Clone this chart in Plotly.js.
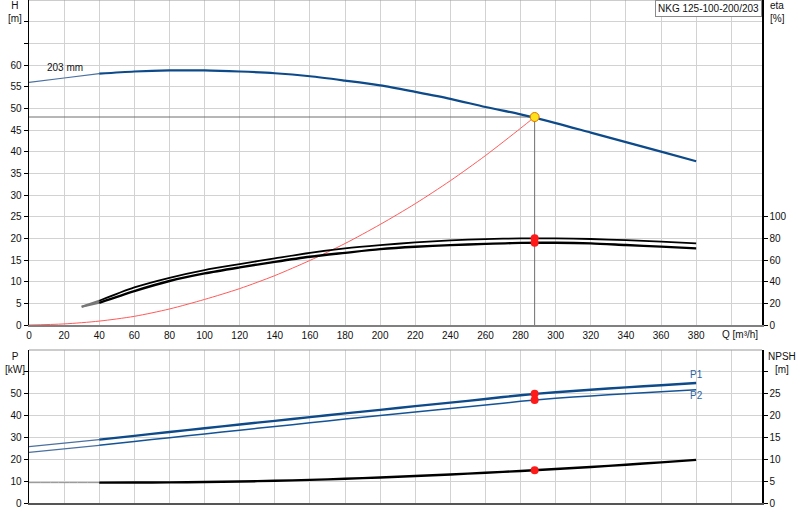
<!DOCTYPE html>
<html><head><meta charset="utf-8">
<script src="https://cdn.plot.ly/plotly-3.0.1.min.js"></script>
<style>html,body{margin:0;padding:0;background:#fff}#chart{width:800px;height:520px}</style>
</head><body><div id="chart"></div>
<script>
// ---- data ----
const qGrid    = [0,20,40,60,80,100,120,140,160,180,200,220,240,260,280,300,320,340,360,380];
const headH    = [56.0,57.0,58.0,58.5,58.75,58.75,58.5,58.1,57.4,56.4,55.3,53.8,52.2,50.3,48.6,46.6,44.4,42.2,40.0,37.8];
const qSystem  = [0,20,40,60,80,100,120,140,160,180,200,220,240,260,280,288];
const systemH  = [0,0.25,0.9,2.0,3.7,5.9,8.4,11.4,14.9,18.8,23.2,28.0,33.3,39.1,45.4,48.0];
const qEta     = [30,40,60,80,100,120,140,160,180,200,220,240,260,280,300,320,340,360,380];
const etaUpper = [16.9,22.4,34.7,43.6,50.7,56.2,61.5,66.6,70.7,73.7,76.2,78.1,79.3,79.9,80.0,79.4,78.3,76.9,75.3];
const etaLower = [16.9,20.5,31.3,40.6,47.6,53.2,58.3,63.0,66.6,70.0,72.2,73.7,74.9,75.8,75.9,75.3,73.8,72.3,70.7];
const powerP1  = [25.8,27.4,29.0,30.7,32.5,34.2,35.9,37.6,39.3,41.0,42.6,44.3,45.9,47.6,49.3,50.7,51.8,52.9,53.9,54.9];
const powerP2  = [23.2,24.8,26.4,28.1,29.9,31.6,33.3,35.0,36.7,38.4,40.0,41.6,43.2,44.8,46.5,47.9,49.0,50.0,50.9,51.8];
const npshR    = [4.65,4.65,4.65,4.68,4.72,4.8,4.92,5.08,5.28,5.55,5.85,6.18,6.53,6.92,7.33,7.78,8.25,8.75,9.3,9.86];
const opQ = 288, opH = 48;
const opEta = [80, 76];
const opP = [50, 47.1];
const opNpsh = 7.5;
const qOperStart = 40;
const xTickVals = [0,20,40,60,80,100,120,140,160,180,200,220,240,260,280,300,320,340,360,380,400];
const xTickText = ['0','20','40','60','80','100','120','140','160','180','200','220','240','260','280','300','320','340','360','380',''];
const hTickVals = [0,5,10,15,20,25,30,35,40,45,50,55,60,65,70];
const hTickText = ['0','5','10','15','20','25','30','35','40','45','50','55','60','',''];
const etaTickVals = [0,20,40,60,80,100];
const pTickVals = [0,10,20,30,40,50,60];
const pTickText = ['0','10','20','30','40','50',''];
const nTickVals = [0,5,10,15,20,25,30];
const nTickText = ['0','5','10','15','20','25',''];

function seg(q, v, lo, hi) {
  const x = [], y = [];
  q.forEach((qq, i) => { if (qq >= lo && qq <= hi) { x.push(qq); y.push(v[i]); } });
  return {x, y};
}
const BLUE = '#0d4a8a';
const sp = {shape:'spline', smoothing:0.8};
const traces = [];
function line(d, color, width, xa, ya) {
  traces.push({type:'scatter', mode:'lines', x:d.x, y:d.y, xaxis:xa, yaxis:ya,
    line:Object.assign({color:color, width:width}, sp), hoverinfo:'skip'});
}
// top plot
line({x:qSystem, y:systemH}, '#ff5a5a', 1, 'x', 'y');
traces.push({type:'scatter', mode:'lines', x:[0, opQ, opQ], y:[opH, opH, 0], xaxis:'x', yaxis:'y',
  line:{color:'#6e6e6e', width:1}, hoverinfo:'skip'});
line(seg(qGrid, headH, 0, qOperStart), '#4a70a0', 1.2, 'x', 'y');
line(seg(qGrid, headH, qOperStart, 999), BLUE, 2.2, 'x', 'y');
line(seg(qEta, etaUpper, 0, qOperStart), '#777', 2, 'x', 'y2');
line(seg(qEta, etaLower, 0, qOperStart), '#777', 2, 'x', 'y2');
line(seg(qEta, etaUpper, qOperStart, 999), '#000', 1.8, 'x', 'y2');
line(seg(qEta, etaLower, qOperStart, 999), '#000', 2.4, 'x', 'y2');
traces.push({type:'scatter', mode:'markers', x:[opQ, opQ], y:opEta, xaxis:'x', yaxis:'y2',
  marker:{color:'#ff1a1a', size:8}, hoverinfo:'skip'});
traces.push({type:'scatter', mode:'markers', x:[opQ], y:[opH], xaxis:'x', yaxis:'y',
  marker:{color:'#ffe21a', size:9, line:{color:'#e07000', width:1}}, hoverinfo:'skip'});
// bottom plot
line(seg(qGrid, powerP1, 0, qOperStart), '#4a70a0', 1.2, 'x2', 'y3');
line(seg(qGrid, powerP1, qOperStart, 999), BLUE, 2.4, 'x2', 'y3');
line(seg(qGrid, powerP2, 0, qOperStart), '#4a70a0', 1.2, 'x2', 'y3');
line(seg(qGrid, powerP2, qOperStart, 999), '#145496', 1.5, 'x2', 'y3');
line(seg(qGrid, npshR, 0, qOperStart), '#8a8a8a', 1, 'x2', 'y4');
line(seg(qGrid, npshR, qOperStart, 999), '#000', 2.4, 'x2', 'y4');
traces.push({type:'scatter', mode:'markers', x:[opQ, opQ], y:opP, xaxis:'x2', yaxis:'y3',
  marker:{color:'#ff1a1a', size:8}, hoverinfo:'skip'});
traces.push({type:'scatter', mode:'markers', x:[opQ], y:[opNpsh], xaxis:'x2', yaxis:'y4',
  marker:{color:'#ff1a1a', size:8}, hoverinfo:'skip'});

const F = {family:'Liberation Sans, Arial, sans-serif', size:10, color:'#111'};
const GRID = '#d2d2d2';
const topDom = [178/503, 1];
const botDom = [0, 153/503];
const lastP1 = powerP1[powerP1.length-1], lastP2 = powerP2[powerP2.length-1];
const lastQ = qGrid[qGrid.length-1];

const layout = {
  width:800, height:520, showlegend:false,
  margin:{l:29, r:38, t:0, b:17},
  paper_bgcolor:'#fff', plot_bgcolor:'#fff', font:F,
  xaxis:{domain:[0,1], range:[0,417.5], anchor:'y', tickvals:xTickVals, ticktext:xTickText,
    showgrid:true, gridcolor:GRID, gridwidth:1, zeroline:false, showline:true, linecolor:'#808080', linewidth:2,
    ticks:'', tickfont:F, fixedrange:true},
  yaxis:{domain:topDom, range:[0,75], anchor:'x', tickvals:hTickVals, ticktext:hTickText,
    showgrid:true, gridcolor:GRID, gridwidth:1, zeroline:false, showline:true, linecolor:'#000', linewidth:1.5,
    ticks:'outside', ticklen:4, tickcolor:'#000', tickfont:F},
  yaxis2:{overlaying:'y', side:'right', anchor:'x', range:[0,300], tickvals:etaTickVals,
    showgrid:false, zeroline:false, showline:true, linecolor:'#000', linewidth:1.5,
    ticks:'outside', ticklen:4, tickcolor:'#000', tickfont:F},
  xaxis2:{domain:[0,1], anchor:'y3', matches:'x', range:[0,417.5], tickvals:xTickVals, showticklabels:false,
    showgrid:true, gridcolor:GRID, gridwidth:1, zeroline:false, showline:true, linecolor:'#555', linewidth:1.5, ticks:''},
  yaxis3:{domain:botDom, range:[0,70], anchor:'x2', tickvals:pTickVals, ticktext:pTickText,
    showgrid:true, gridcolor:GRID, gridwidth:1, zeroline:false, showline:true, linecolor:'#000', linewidth:1.5,
    ticks:'outside', ticklen:4, tickcolor:'#000', tickfont:F},
  yaxis4:{overlaying:'y3', side:'right', anchor:'x2', range:[0,35], tickvals:nTickVals, ticktext:nTickText,
    showgrid:false, zeroline:false, showline:true, linecolor:'#000', linewidth:1.5,
    ticks:'outside', ticklen:4, tickcolor:'#000', tickfont:F},
  shapes:[
    {type:'line', xref:'paper', x0:0, x1:1, yref:'y domain', y0:1, y1:1, line:{color:'#999', width:1}},
    {type:'line', xref:'paper', x0:0, x1:1, yref:'y3 domain', y0:1, y1:1, line:{color:'#999', width:1}}
  ],
  annotations:[
    {xref:'paper', yref:'paper', x:-0.0195, y:1.0, yshift:2, xanchor:'center', yanchor:'top', showarrow:false,
      text:'H<br>[m]', font:F, align:'center'},
    {xref:'paper', yref:'paper', x:1.0082, y:1.0, yshift:2, xanchor:'left', yanchor:'top', showarrow:false,
      text:'eta<br>[%]', font:F, align:'left'},
    {xref:'paper', yref:'paper', x:-0.0195, y:botDom[1]+0.002, xanchor:'center', yanchor:'top', showarrow:false,
      text:'P<br>[kW]', font:F, align:'center'},
    {xref:'paper', yref:'paper', x:1.0055, y:botDom[1]+0.002, xanchor:'left', yanchor:'top', showarrow:false,
      text:'NPSH<br>[m]', font:F, align:'center'},
    {xref:'paper', yref:'paper', x:0.997, y:topDom[0], xanchor:'right', yanchor:'top', yshift:-2, showarrow:false,
      text:'Q [m³/h]', font:F},
    {xref:'paper', yref:'paper', x:1, y:1, xanchor:'right', yanchor:'top', showarrow:false,
      text:'NKG 125-100-200/203', font:F, bgcolor:'#fff', bordercolor:'#8a8a8a', borderwidth:1, borderpad:2},
    {xref:'x', yref:'y', x:20.6, y:59.4, xanchor:'center', yanchor:'middle', showarrow:false,
      text:'203 mm', font:F},
    {xref:'x2', yref:'y3', x:lastQ, y:lastP1, yshift:9, xanchor:'center', yanchor:'middle', showarrow:false,
      text:'P1', font:{family:F.family, size:10, color:'#2a64a6'}},
    {xref:'x2', yref:'y3', x:lastQ, y:lastP2, yshift:-6, xanchor:'center', yanchor:'middle', showarrow:false,
      text:'P2', font:{family:F.family, size:10, color:'#2a64a6'}}
  ]
};
Plotly.newPlot('chart', traces, layout, {staticPlot:true, displayModeBar:false});
</script></body></html>
